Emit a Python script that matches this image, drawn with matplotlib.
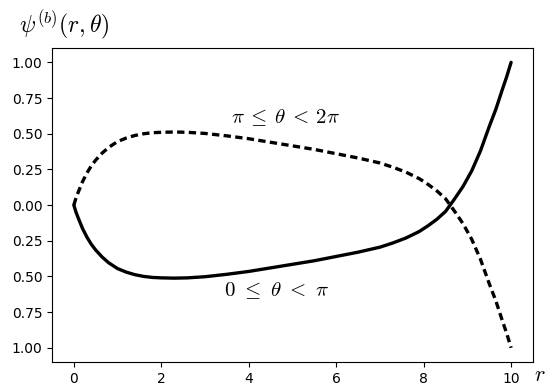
import matplotlib
matplotlib.use("Agg")
import matplotlib.pyplot as plt

plt.rcParams['mathtext.fontset'] = 'cm'
plt.rcParams['font.family'] = ['DejaVu Sans']

r_vals = [0.0, 0.05, 0.1, 0.2, 0.3, 0.4, 0.5, 0.65, 0.8, 1.0, 1.2, 1.4, 1.6, 1.8,
          2.0, 2.3, 2.6, 3.0, 3.5, 4.0, 4.5, 5.0, 5.5, 6.0, 6.5, 7.0, 7.3, 7.6,
          7.9, 8.1, 8.3, 8.5, 8.7, 8.9, 9.1, 9.3, 9.5, 9.65, 9.8, 9.9, 10.0]
psi_lower = [0.0, -0.05, -0.09, -0.165, -0.225, -0.275, -0.315, -0.365, -0.405,
             -0.445, -0.47, -0.488, -0.5, -0.507, -0.51, -0.512, -0.51, -0.502,
             -0.485, -0.465, -0.44, -0.415, -0.39, -0.36, -0.33, -0.295, -0.265,
             -0.23, -0.185, -0.145, -0.1, -0.045, 0.04, 0.13, 0.24, 0.38, 0.55,
             0.67, 0.81, 0.9, 1.0]
psi_upper = [0.0, 0.05, 0.09, 0.165, 0.225, 0.275, 0.315, 0.365, 0.405,
             0.445, 0.47, 0.488, 0.5, 0.507, 0.51, 0.512, 0.51, 0.502,
             0.485, 0.465, 0.44, 0.415, 0.39, 0.36, 0.33, 0.295, 0.265,
             0.23, 0.185, 0.145, 0.1, 0.045, -0.04, -0.13, -0.24, -0.38, -0.55,
             -0.67, -0.81, -0.9, -1.0]

x_ticks = [0, 2, 4, 6, 8, 10]
y_ticks = [1.0, 0.75, 0.5, 0.25, 0.0, -0.25, -0.5, -0.75, -1.0]
y_tick_labels = ['1.00', '0.75', '0.50', '0.25', '0.00', '0.25', '0.50', '0.75', '1.00']

fig = plt.figure(figsize=(5.5, 3.91), dpi=100)
ax = fig.add_axes([0.0945, 0.074, 0.8745, 0.803])

ax.plot(r_vals, psi_lower, color='black', lw=2.4, solid_capstyle='round')
ax.plot(r_vals, psi_upper, color='black', lw=2.4, ls=(0, (2.2, 1.3)))

ax.set_xticks(x_ticks)
ax.set_yticks(y_ticks)
ax.set_yticklabels(y_tick_labels)
ax.tick_params(labelsize=10)
ax.set_xlim(-0.5, 10.5)
ax.set_ylim(-1.1, 1.1)

ax.text(4.84, 0.61, r'$\pi\:\leq\:\theta\:<\:2\pi$', fontsize=15, ha='center', va='center')
ax.text(4.63, -0.60, r'$0\ \leq\ \theta\ <\ \pi$', fontsize=15, ha='center', va='center')

fig.text(0.035, 0.935, r'$\psi^{(b)}(r,\theta)$', fontsize=17, ha='left', va='center')
fig.text(0.982, 0.04, r'$r$', fontsize=16, ha='center', va='center')

fig.savefig('out.png', dpi=100)
